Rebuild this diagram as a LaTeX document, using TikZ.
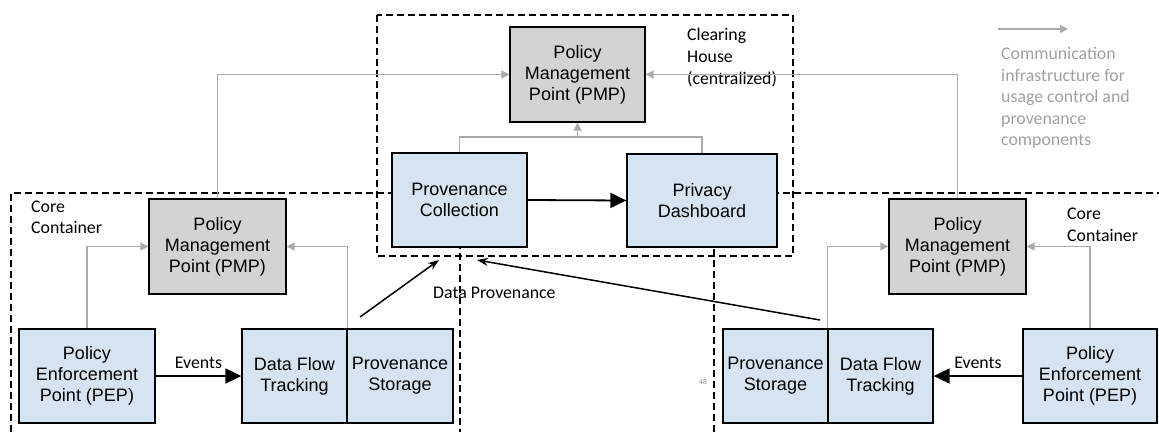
\documentclass[tikz,border=0pt]{standalone}
\usepackage{fontspec}
\setmainfont{Liberation Sans}
\newfontfamily\labfont{Carlito}
\usetikzlibrary{arrows.meta}
\definecolor{boxblue}{RGB}{214,228,242}
\definecolor{boxgray}{RGB}{211,211,211}
\definecolor{conngray}{RGB}{170,170,170}
\definecolor{legtext}{RGB}{160,160,160}
\tikzset{
  comp/.style={draw=black, line width=1.3pt, fill=boxblue, align=center, inner sep=1pt,
    font=\fontsize{18}{21}\selectfont, minimum height=94pt},
  pmpbox/.style={comp, fill=boxgray, minimum width=136pt, minimum height=95pt},
  region/.style={draw=black, line width=1.4pt, dash pattern=on 7pt off 4pt},
  infra/.style={draw=conngray, line width=1.6pt, -{Triangle[length=8pt,width=8pt]}},
  infraline/.style={draw=conngray, line width=1.6pt},
  bigflow/.style={draw=black, line width=1.8pt, -{Triangle[length=16pt,width=15pt]}},
  provflow/.style={draw=black, line width=1.5pt, -{Stealth[length=11pt,width=8pt]}},
  lab/.style={font=\labfont\fontsize{17.8}{21.5}\selectfont, align=left, inner sep=0pt},
}
\begin{document}
\begin{tikzpicture}[x=1pt,y=-1pt]
\useasboundingbox (0,0) rectangle (1159,432);
% regions (dashed)
\draw[region] (11,432) -- (11,193) -- (460,193) -- (460,432);
\draw[region] (714,432) -- (714,193) -- (1159,193);
\draw[region] (377,15) rectangle (793,256);

% clearing house
\node[pmpbox, minimum width=135pt] (tpmp) at (577.5,74.5) {Policy\\Management\\Point (PMP)};
\node[comp, minimum width=135pt] (pc) at (459.5,200) {Provenance\\Collection};
\node[comp, minimum width=150pt, minimum height=93pt] (pd) at (702,200.5) {Privacy\\Dashboard};
\node[lab, anchor=north west, font=\labfont\fontsize{17.8}{22}\selectfont] (chl) at (687,28) {Clearing\\House\\(centralized)};

% left core container
\node[pmpbox, minimum width=137pt] (lpmp) at (217.5,246.5) {Policy\\Management\\Point (PMP)};
\node[comp, minimum width=136pt] (lpep) at (87,376) {Policy\\Enforcement\\Point (PEP)};
\node[comp, minimum width=105pt] (ldft) at (294.5,376) {Data Flow\\Tracking};
\node[comp, minimum width=106pt] (lps) at (400,376) {Provenance\\Storage};
\node[lab, anchor=north west, font=\labfont\fontsize{17.8}{20.5}\selectfont] (lcc) at (31,201) {Core\\Container};

% right core container
\node[pmpbox, minimum width=137pt] (rpmp) at (957.5,246.5) {Policy\\Management\\Point (PMP)};
\node[comp, minimum width=105pt] (rps) at (775.5,376) {Provenance\\Storage};
\node[comp, minimum width=105pt] (rdft) at (880.5,376) {Data Flow\\Tracking};
\node[comp, minimum width=134pt] (rpep) at (1090,376) {Policy\\Enforcement\\Point (PEP)};
\node[lab, anchor=north west, font=\labfont\fontsize{17.8}{21.5}\selectfont] (rcc) at (1067,208) {Core\\Container};

% gray infrastructure connectors
\draw[infra] (lpep.north) |- (lpmp.west);
\draw[infra] (ldft.north east) |- (lpmp.east);
\draw[infra] (lpmp.north) |- (tpmp.west);
\draw[infra] (rpmp.north) |- (tpmp.east);
\draw[infra] (rdft.north west) |- (rpmp.west);
\draw[infra] (rpep.north) |- (rpmp.east);
\coordinate (jn) at (577.5,137);
\draw[infraline] (pc.north) |- (jn) -| (pd.north);
\draw[infra] (jn) -- (tpmp.south);

% black flows
\draw[bigflow] (lpep.east) -- node[lab, above=6pt] (lev) {Events} (ldft.west);
\draw[bigflow] (rpep.west) -- node[lab, above=6pt] (rev) {Events} (rdft.east);
\draw[bigflow] (pc.east) -- (pd.west);
\coordinate (ls) at (360,317);
\coordinate (lt) at (439,260);
\coordinate (rs) at (820,320);
\coordinate (rt) at (477,260);
\draw[provflow] (ls) -- (lt);
\draw[provflow] (rs) -- (rt);
\node[lab, anchor=base west] (dp) at (433,298) {Data Provenance};

% page number
\node[font=\fontsize{7}{8}\selectfont, text=black!45, inner sep=0pt] (pg) at (703,382) {48};

% legend
\coordinate (la) at (998,29);
\coordinate (lb) at (1068,29);
\draw[infra] (la) -- (lb);
\node[lab, text=legtext, anchor=north west, font=\labfont\fontsize{17.8}{21.5}\selectfont] (leg) at (1001,47) {Communication\\infrastructure for\\usage control and\\provenance\\components};
\end{tikzpicture}
\end{document}
